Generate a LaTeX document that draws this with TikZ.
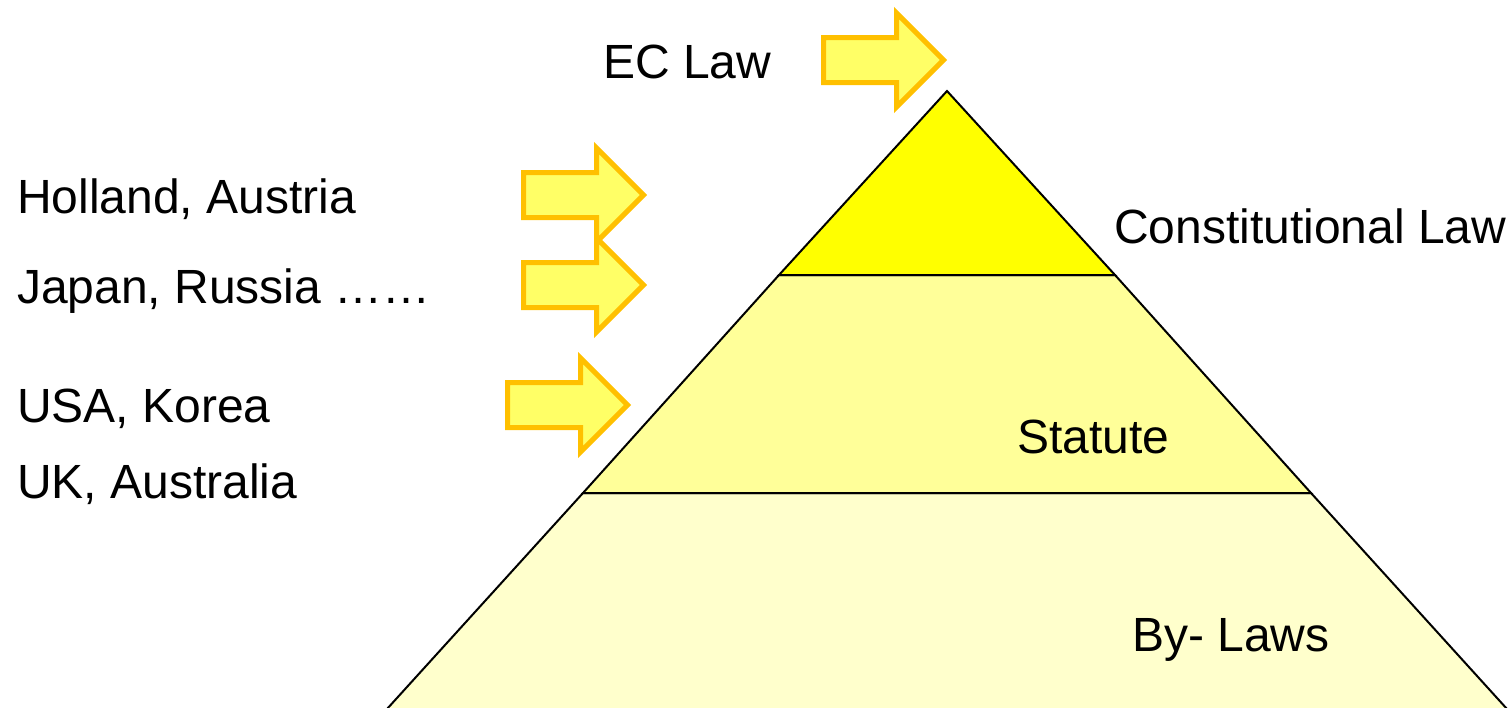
\documentclass[tikz,border=0pt]{standalone}
\usepackage{fontspec}
\setmainfont{Liberation Sans}
\definecolor{arrowfill}{HTML}{FFFF66}
\definecolor{arrowline}{HTML}{FFC000}
\definecolor{layertop}{HTML}{FFFF00}
\definecolor{layermid}{HTML}{FFFF99}
\definecolor{layerbot}{HTML}{FFFFCC}
\tikzset{
  label text/.style={inner sep=0pt, anchor=base west, font=\fontsize{48}{57}\selectfont},
  layer/.style={draw=black, line width=2pt, line join=miter},
  arrowstyle/.style={fill=arrowfill, draw=arrowline, line width=5pt, line join=miter},
  fatarrow/.pic={\draw[arrowstyle] (0,-22.5) -- (73,-22.5) -- (73,-47) -- (120,0) -- (73,47) -- (73,22.5) -- (0,22.5) -- cycle;}
}
\begin{document}
\begin{tikzpicture}[x=1pt,y=-1pt]
\useasboundingbox (0,0) rectangle (1512,707);
\clip (0,0) rectangle (1512,707);
\fill[white] (0,0) rectangle (1512,707);
% pyramid corners
\coordinate (apex) at (947,91);
\coordinate (l1) at (779,275);
\coordinate (r1) at (1115,275);
\coordinate (l2) at (583,493);
\coordinate (r2) at (1311,493);
\coordinate (l3) at (377,720);
\coordinate (r3) at (1517,720);
\draw[layer, fill=layerbot] (l2) -- (r2) -- (r3) -- (l3) -- cycle;
\draw[layer, fill=layermid] (l1) -- (r1) -- (r2) -- (l2) -- cycle;
\draw[layer, fill=layertop] (apex) -- (r1) -- (l1) -- cycle;
% arrows
\pic at (823.5,60) {fatarrow};
\pic at (523.5,195) {fatarrow};
\pic at (523.5,285) {fatarrow};
\pic at (507.5,405) {fatarrow};
% labels
\node[label text] (ec) at (603,78) {EC Law};
\node[label text] (holland) at (17,213) {Holland, Austria};
\node[label text] (japan) at (17,303) {Japan, Russia ……};
\node[label text] (usa) at (17,422) {USA, Korea};
\node[label text] (uk) at (17,498) {UK, Australia};
\node[label text] (const) at (1114,243) {Constitutional Law};
\node[label text] (statute) at (1017,453) {Statute};
\node[label text] (bylaws) at (1132,651) {By- Laws};
\end{tikzpicture}
\end{document}
